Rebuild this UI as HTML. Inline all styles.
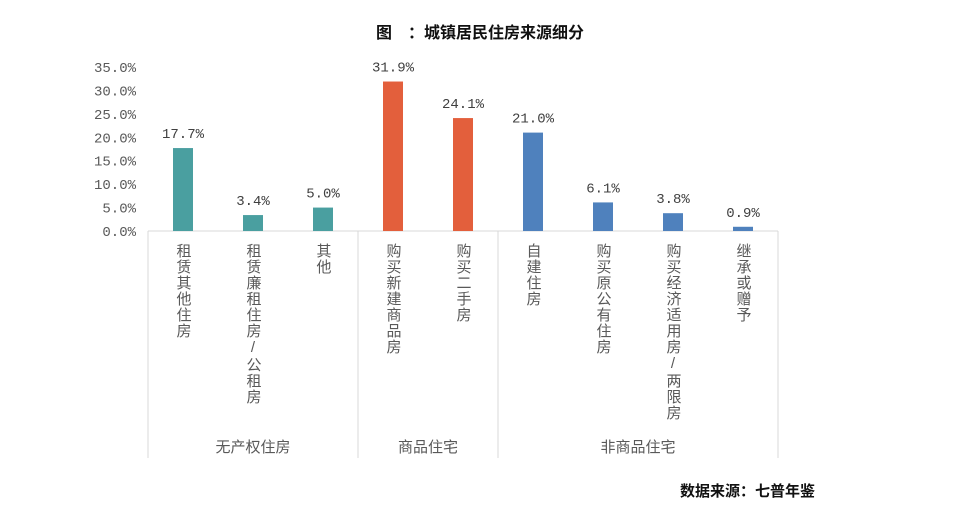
<!DOCTYPE html>
<html><head><meta charset="utf-8"><style>
body{margin:0;background:#fff;width:960px;height:519px;overflow:hidden}
svg{display:block}
text{font-family:"Liberation Sans","Noto Sans CJK SC",sans-serif}
text.mono{font-family:"Liberation Mono",monospace}
</style></head><body>
<svg id="chart" width="960" height="519">
<text x="480" y="38" text-anchor="middle" font-size="16" font-weight="bold" fill="#111">图　：城镇居民住房来源细分</text>
<text x="815" y="496" text-anchor="end" font-size="15" font-weight="bold" fill="#111">数据来源：七普年鉴</text>
</svg>
<script>
const categories=["租赁其他住房","租赁廉租住房/公租房","其他","购买新建商品房","购买二手房","自建住房","购买原公有住房","购买经济适用房/两限房","继承或赠予"];
const values=[17.7,3.4,5.0,31.9,24.1,21.0,6.1,3.8,0.9];
const groupIdx=[0,0,0,1,1,2,2,2,2];
const groups=["无产权住房","商品住宅","非商品住宅"];
const yTicks=[0,5,10,15,20,25,30,35];
const colors=["#4A9FA0","#E35F3C","#4F81BD"];
const svg=document.getElementById('chart');
const NS='http://www.w3.org/2000/svg';
const x0=148,x1=778,y0=231,yTop=67,yMax=35;
const step=(x1-x0)/categories.length;
const y=v=>y0-(v/yMax)*(y0-yTop);
const xc=i=>x0+step*(i+0.5);
function mk(tag,attrs){const e=document.createElementNS(NS,tag);for(const k in attrs)e.setAttribute(k,attrs[k]);svg.appendChild(e);return e;}
yTicks.forEach(t=>{
 const e=mk('text',{x:136,y:y(t)+5,'text-anchor':'end','font-size':14,fill:'#595959',class:'mono'});
 e.textContent=t.toFixed(1)+'%';
 
 
});
const ax=mk('line',{x1:x0,y1:y0,x2:x1,y2:y0,stroke:'#d9d9d9','stroke-width':1});


let bounds=[0];
for(let i=1;i<categories.length;i++) if(groupIdx[i]!==groupIdx[i-1]) bounds.push(i);
bounds.push(categories.length);
bounds.forEach(b=>{
 const l=mk('line',{x1:x0+b*step,y1:y0,x2:x0+b*step,y2:458,stroke:'#d9d9d9','stroke-width':1});
 
 
});
groups.forEach((g,gi)=>{
 const cx=(x0+bounds[gi]*step+x0+bounds[gi+1]*step)/2;
 const t=mk('text',{x:cx,y:452,'text-anchor':'middle','font-size':15,fill:'#595959'});
 t.textContent=g;
 
 
});
categories.forEach((c,i)=>{
 const v=values[i],bw=20;
 const r=mk('rect',{x:xc(i)-bw/2,y:y(v),width:bw,height:y0-y(v),fill:colors[groupIdx[i]]});
 
 
 const lb=mk('text',{x:xc(i),y:y(v)-10,'text-anchor':'middle','font-size':14,fill:'#404040',class:'mono'});
 lb.textContent=v.toFixed(1)+'%';
 
 
 const ct=mk('text',{x:xc(i),y:243,'font-size':15,fill:'#595959'});
 ct.setAttribute('style','writing-mode:vertical-rl;text-orientation:upright;letter-spacing:1px');
 ct.textContent=c;
 
 
});
</script>
</body></html>
